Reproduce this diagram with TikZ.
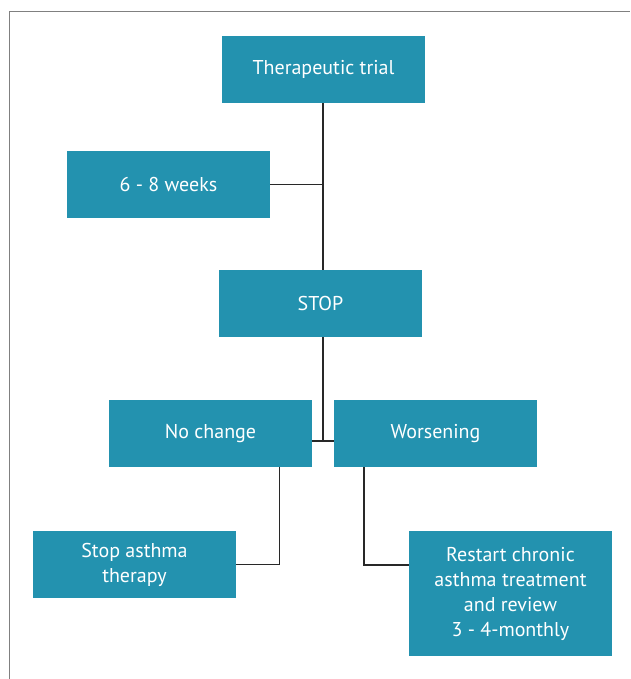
\documentclass[tikz,border=0pt]{standalone}
\usepackage{fontspec}
\setmainfont{PT Sans}
\definecolor{trteal}{RGB}{35,146,175}
\definecolor{trline}{RGB}{40,40,40}
\definecolor{trframe}{RGB}{128,128,128}
\tikzset{
  box/.style={fill=trteal, text=white, align=center, inner sep=0pt,
              minimum width=203pt, minimum height=67pt,
              font=\fontsize{20}{25}\selectfont},
  tall/.style={box, minimum height=125pt},
  conn/.style={draw=trline, line width=1.4pt},
  frame/.style={draw=trframe, line width=1pt}
}
\begin{document}
\begin{tikzpicture}[x=1pt, y=-1pt]
  \useasboundingbox (0,0) rectangle (630,679);
  % frame, only top and left show
  \coordinate (fl) at (9,679);
  \coordinate (fc) at (9,12);
  \coordinate (fr) at (630,12);
  \draw[frame] (fl) -- (fc) -- (fr);
  % row 1 and 2: trial
  \node[box]  (trial)   at (323.5,69.5)  {Therapeutic trial};
  \node[box]  (weeks)   at (168.5,184.5) {6 - 8 weeks};
  \node[box]  (stop)    at (320.5,303.5) {STOP};
  % row 3: outcome
  \node[box]  (nochg)   at (210.5,433.5) {No change};
  \node[box]  (worse)   at (435.5,433.5) {Worsening};
  % row 4: action
  \node[box]  (stopthr) at (134.5,564.5) {Stop asthma\\therapy};
  \node[tall] (restart) at (510.5,593.5) {Restart chronic\\asthma treatment\\and review\\3 - 4-monthly};

  \coordinate (split) at (323,441);
  \draw[conn] (trial.south -| split) -- (stop.north -| split);
  \draw[conn] (weeks.east) -- (weeks.east -| split);
  \draw[conn] (stop.south -| split) -- (split);
  \draw[conn] (nochg.east |- split) -- (worse.west |- split);
  \draw[conn] ([xshift=-33pt]nochg.south east) |- (stopthr.east);
  \draw[conn] ([xshift=30pt]worse.south west) |- ([yshift=-34pt]restart.north west);
\end{tikzpicture}
\end{document}
